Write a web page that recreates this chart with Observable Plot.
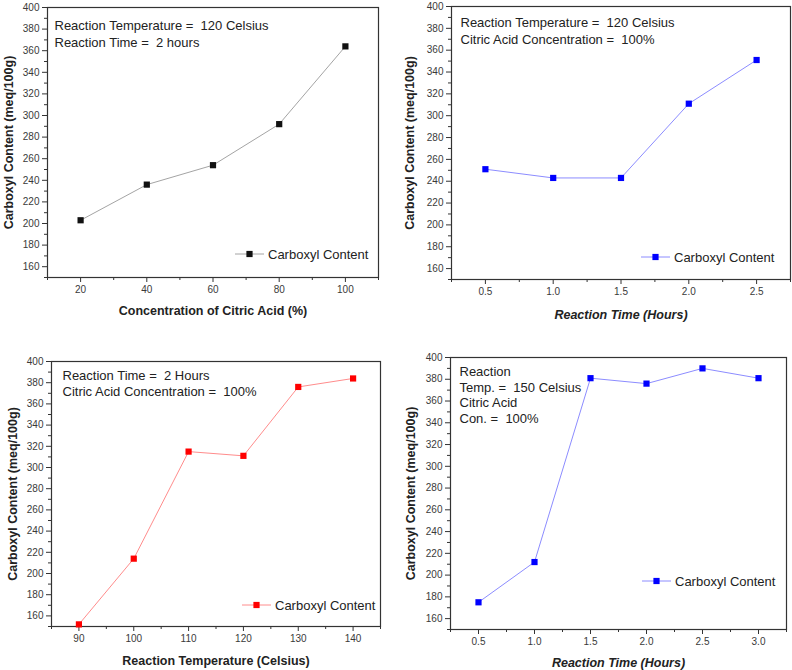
<!DOCTYPE html>
<html>
<head>
<meta charset="utf-8">
<script src="https://cdn.jsdelivr.net/npm/d3@7"></script>
<script src="https://cdn.jsdelivr.net/npm/@observablehq/plot@0.6"></script>
<style>
  html, body { margin: 0; padding: 0; background: #fff; }
  #wrap { position: relative; width: 792px; height: 670px; overflow: hidden; background: #fff; }
  .panel { position: absolute; }
  svg text { white-space: pre; }
</style>
</head>
<body>
<div id="wrap">
  <div class="panel" id="p1" style="left:0;top:0"></div>
  <div class="panel" id="p2" style="left:396px;top:0"></div>
  <div class="panel" id="p3" style="left:0;top:330px"></div>
  <div class="panel" id="p4" style="left:396px;top:330px"></div>
</div>
<script>
// ---- Data ----
const concX = [20, 40, 60, 80, 100];
const concY = [203, 236, 254, 292, 364];

const time1X = [0.5, 1.0, 1.5, 2.0, 2.5];
const time1Y = [251, 243, 243, 311, 351];

const tempX = [90, 100, 110, 120, 130, 140];
const tempY = [152, 214, 315, 311, 376, 384];

const time2X = [0.5, 1.0, 1.5, 2.0, 2.5, 3.0];
const time2Y = [175, 212, 381, 376, 390, 381];

// ---- Tick labels ----
const yMajor = [160, 180, 200, 220, 240, 260, 280, 300, 320, 340, 360, 380, 400];
const yMinor = [150, 170, 190, 210, 230, 250, 270, 290, 310, 330, 350, 370, 390];
const concMajor = [20, 40, 60, 80, 100];
const concMinor = [10, 30, 50, 70, 90, 110];
const time1Major = [0.5, 1.0, 1.5, 2.0, 2.5];
const time1Minor = [0.25, 0.75, 1.25, 1.75, 2.25, 2.75];
const tempMajor = [90, 100, 110, 120, 130, 140];
const tempMinor = [85, 95, 105, 115, 125, 135, 145];
const time2Major = [0.5, 1.0, 1.5, 2.0, 2.5, 3.0];
const time2Minor = [0.25, 0.75, 1.25, 1.75, 2.25, 2.75, 3.25];

// ---- Texts ----
const yTitle = "Carboxyl Content (meq/100g)";
const seriesName = "Carboxyl Content";
const ann1 = "Reaction Temperature =  120 Celsius\nReaction Time =  2 hours";
const ann2 = "Reaction Temperature =  120 Celsius\nCitric Acid Concentration =  100%";
const ann3 = "Reaction Time =  2 Hours\nCitric Acid Concentration =  100%";
const ann4 = "Reaction\nTemp. =  150 Celsius\nCitric Acid\nCon. =  100%";
const xTitle1 = "Concentration of Citric Acid (%)";
const xTitle2 = "Reaction Time (Hours)";
const xTitle3 = "Reaction Temperature (Celsius)";
const xTitle4 = "Reaction Time (Hours)";

const FONT = "'Liberation Sans', Arial, Helvetica, sans-serif";

function panel(cfg) {
  const rows = cfg.xs.map((x, i) => ({x, y: cfg.ys[i]}));
  const svg = Plot.plot({
    width: cfg.width, height: cfg.height,
    marginLeft: cfg.m[0], marginTop: cfg.m[1], marginRight: cfg.m[2], marginBottom: cfg.m[3],
    style: {fontFamily: FONT, fontSize: "10px", color: "#333", background: "white", overflow: "visible"},
    x: {domain: cfg.xDomain},
    y: {domain: [150, 400]},
    marks: [
      Plot.axisY(yMajor, {tickSize: 5, tickPadding: 3, label: null, fontSize: 10, fill: "#3a3a3a"}),
      Plot.axisY(yMinor, {tickSize: 3, tickFormat: () => "", label: null}),
      Plot.axisX(cfg.xMajor, {tickSize: 5, tickPadding: 3, label: null, fontSize: 10, fill: "#3a3a3a", tickFormat: cfg.xFormat}),
      Plot.axisX(cfg.xMinor, {tickSize: 3, tickFormat: () => "", label: null}),
      Plot.frame({stroke: "#333", strokeWidth: 1.2}),
      Plot.line(rows, {x: "x", y: "y", stroke: cfg.lineColor, strokeWidth: 1}),
      Plot.dot(rows, {x: "x", y: "y", symbol: "square", r: 3.5, fill: cfg.markColor}),
      Plot.text([cfg.ann], {frameAnchor: "top-left", dx: cfg.annDx, dy: cfg.annDy, textAnchor: "start",
        lineAnchor: "top", lineHeight: cfg.annLH, fontSize: 13, fill: "#222"}),
      Plot.text([cfg.xTitle], {frameAnchor: "bottom", dy: cfg.xTitleDy, textAnchor: "middle", lineAnchor: "middle",
        fontWeight: "bold", fontSize: 12.5, fontStyle: cfg.italic ? "italic" : "normal", fill: "#222"}),
      Plot.text([yTitle], {frameAnchor: "left", dx: cfg.yTitleDx, rotate: -90, textAnchor: "middle", lineAnchor: "middle",
        fontWeight: "bold", fontSize: 12.5, fill: "#222"})
    ]
  });
  // legend (layout relative to the frame)
  const right = cfg.width - cfg.m[2];
  const bottom = cfg.height - cfg.m[3];
  const T = right - cfg.legT;
  const ly = bottom - cfg.legDy;
  const g = d3.select(svg).append("g");
  g.append("line").attr("x1", T - 33).attr("x2", T - 4).attr("y1", ly).attr("y2", ly)
    .attr("stroke", cfg.lineColor).attr("stroke-width", 1);
  g.append("rect").attr("x", T - 18.5 - 3.1).attr("y", ly - 3.1).attr("width", 6.2).attr("height", 6.2)
    .attr("fill", cfg.markColor);
  g.append("text").attr("x", T).attr("y", ly).attr("dy", "0.35em").attr("text-anchor", "start")
    .attr("font-family", FONT).attr("font-size", 13).attr("fill", "#222").text(seriesName);
  return svg;
}

const f1 = d3.format(".1f");

document.getElementById("p1").appendChild(panel({
  xs: concX, ys: concY, width: 396, height: 330, m: [47, 7, 18, 53],
  xDomain: [10, 110], xMajor: concMajor, xMinor: concMinor, xFormat: d => String(d),
  lineColor: "#a4a4a4", markColor: "#111",
  ann: ann1, annDx: 7, annDy: 11, annLH: 1.28,
  xTitle: xTitle1, italic: false, xTitleDy: 33, yTitleDx: -39,
  legT: 110, legDy: 23
}));

document.getElementById("p2").appendChild(panel({
  xs: time1X, ys: time1Y, width: 396, height: 330, m: [55, 6, 2, 51],
  xDomain: [0.25, 2.75], xMajor: time1Major, xMinor: time1Minor, xFormat: f1,
  lineColor: "#8c8cff", markColor: "#0000ff",
  ann: ann2, annDx: 9, annDy: 9, annLH: 1.28,
  xTitle: xTitle2, italic: true, xTitleDy: 35, yTitleDx: -42,
  legT: 116, legDy: 22
}));

document.getElementById("p3").appendChild(panel({
  xs: tempX, ys: tempY, width: 396, height: 340, m: [51, 31, 16, 44],
  xDomain: [85, 145], xMajor: tempMajor, xMinor: tempMinor, xFormat: d => String(d),
  lineColor: "#ff8c8c", markColor: "#ff0000",
  ann: ann3, annDx: 11, annDy: 7, annLH: 1.23,
  xTitle: xTitle3, italic: false, xTitleDy: 34, yTitleDx: -39,
  legT: 105, legDy: 21
}));

document.getElementById("p4").appendChild(panel({
  xs: time2X, ys: time2Y, width: 396, height: 340, m: [54, 27, 6, 41],
  xDomain: [0.25, 3.25], xMajor: time2Major, xMinor: time2Minor, xFormat: f1,
  lineColor: "#8c8cff", markColor: "#0000ff",
  ann: ann4, annDx: 9, annDy: 7, annLH: 1.22,
  xTitle: xTitle4, italic: true, xTitleDy: 33, yTitleDx: -40,
  legT: 111, legDy: 48
}));
</script>
</body>
</html>
